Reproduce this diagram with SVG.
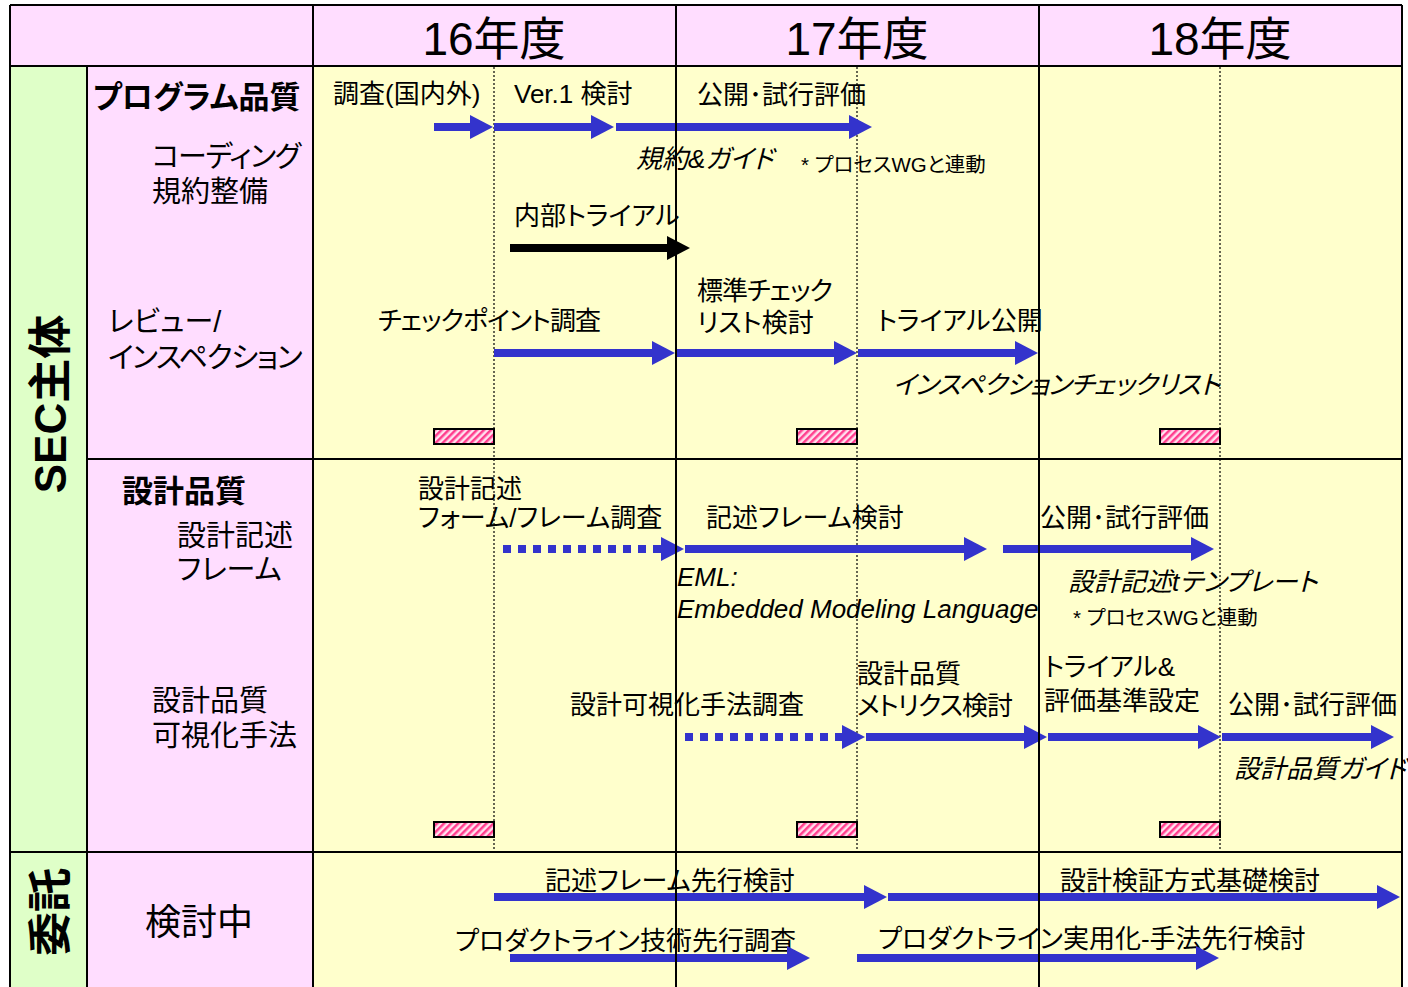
<svg xmlns="http://www.w3.org/2000/svg" width="1408" height="987" viewBox="0 0 1408 987">
<style>
.t{font-family:"Liberation Sans","Noto Sans CJK JP",sans-serif;font-feature-settings:"palt";fill:#000}
.yr{font-size:46px}
.hd{font-size:31px;font-weight:bold}
.lb{font-size:29px}
.s{font-size:26px}
.sm{font-size:20.5px}
.it{font-style:italic}
.k{letter-spacing:-1px}
.vt{font-size:44px;font-weight:bold}
.grid{stroke:#000;stroke-width:2;fill:none}
.dot{stroke:#000;stroke-width:1.2;stroke-dasharray:2 2;fill:none}
.ar{stroke:#3333CC;stroke-width:8;fill:none;marker-end:url(#hb)}
.ard{stroke:#3333CC;stroke-width:8;fill:none;stroke-dasharray:8 7;marker-end:url(#hb)}
.ark{stroke:#000;stroke-width:8;fill:none;marker-end:url(#hk)}
.hatch{fill:url(#hp);stroke:#000;stroke-width:2}
</style>
<defs>
<marker id="hb" markerUnits="userSpaceOnUse" markerWidth="23" markerHeight="24" viewBox="0 0 23 24" refX="1" refY="12" orient="auto"><path d="M0,0 L23,12 L0,24 Z" fill="#3333CC"/></marker>
<marker id="hk" markerUnits="userSpaceOnUse" markerWidth="23" markerHeight="24" viewBox="0 0 23 24" refX="1" refY="12" orient="auto"><path d="M0,0 L23,12 L0,24 Z" fill="#000"/></marker>
<pattern id="hp" width="5" height="5" patternUnits="userSpaceOnUse" patternTransform="rotate(45)"><rect width="5" height="5" fill="#FFE0EE"/><rect width="2.5" height="5" fill="#FF3E8E"/></pattern>
</defs>

<g id="background">
<rect x="10" y="5" width="1392" height="61" fill="#FFDDFF"/>
<rect x="10" y="66" width="77" height="921" fill="#DFFFC8"/>
<rect x="87" y="66" width="226" height="921" fill="#FFDDFF"/>
<rect x="313" y="66" width="1089" height="921" fill="#FFFFCC"/>
</g>

<g id="midyear-lines">
<line class="dot" x1="494" y1="67" x2="494" y2="851"/>
<line class="dot" x1="857" y1="67" x2="857" y2="851"/>
<line class="dot" x1="1220" y1="67" x2="1220" y2="851"/>
</g>

<g id="header">
<text class="t yr" x="494" y="55" text-anchor="middle">16年度</text>
<text class="t yr" x="857" y="55" text-anchor="middle">17年度</text>
<text class="t yr" x="1220" y="55" text-anchor="middle">18年度</text>
</g>

<g id="sec-label"><text class="t vt" transform="translate(66,404) rotate(-90)" text-anchor="middle">SEC主体</text></g>
<g id="itaku-label"><text class="t vt" font-size="42" transform="translate(66,912) rotate(-90)" text-anchor="middle">委託</text></g>

<g id="program-quality">
<text class="t hd" x="93" y="108">プログラム品質</text>
<text class="t lb" x="152" y="167" letter-spacing="-1.3">コーディング</text>
<text class="t lb" x="152" y="202">規約整備</text>
<text class="t lb" x="108" y="332">レビュー/</text>
<text class="t lb" x="108" y="368" letter-spacing="-1.4">インスペクション</text>
</g>

<g id="design-quality">
<text class="t hd" x="122" y="502">設計品質</text>
<text class="t lb" x="177" y="546">設計記述</text>
<text class="t lb" x="177" y="580">フレーム</text>
<text class="t lb" x="152" y="711">設計品質</text>
<text class="t lb" x="152" y="746">可視化手法</text>
</g>

<g id="itaku-row"><text class="t" font-size="36" x="145" y="935">検討中</text></g>

<g id="coding-tasks">
<text class="t s" x="333" y="103">調査(国内外)</text>
<text class="t s" x="514" y="103">Ver.1 検討</text>
<text class="t s" x="697" y="104">公開･試行評価</text>
<text class="t s it" x="636" y="168">規約&amp;ガイド</text>
<text class="t sm" x="801" y="172">* プロセスWGと連動</text>
<text class="t s" x="514" y="225">内部トライアル</text>
</g>

<g id="review-tasks">
<text class="t s k" x="378" y="330">チェックポイント調査</text>
<text class="t s k" x="697" y="300">標準チェック</text>
<text class="t s" x="697" y="332">リスト検討</text>
<text class="t s" x="877" y="330">トライアル公開</text>
<text class="t s it" x="893" y="394" letter-spacing="-0.7">インスペクションチェックリスト</text>
</g>

<g id="frame-tasks">
<text class="t s" x="418" y="498">設計記述</text>
<text class="t s" x="418" y="527">フォーム/フレーム調査</text>
<text class="t s" x="706" y="527">記述フレーム検討</text>
<text class="t s" x="1040" y="527">公開･試行評価</text>
<text class="t s it" x="677" y="586">EML:</text>
<text class="t s it" x="677" y="618">Embedded Modeling Language</text>
<text class="t s it" x="1068" y="591">設計記述tテンプレート</text>
<text class="t sm" x="1073" y="625">* プロセスWGと連動</text>
</g>

<g id="visual-tasks">
<text class="t s" x="570" y="714">設計可視化手法調査</text>
<text class="t s" x="857" y="683">設計品質</text>
<text class="t s k" x="857" y="715">メトリクス検討</text>
<text class="t s" x="1044" y="676">トライアル&amp;</text>
<text class="t s" x="1044" y="710">評価基準設定</text>
<text class="t s" x="1228" y="714">公開･試行評価</text>
<text class="t s it" x="1234" y="778">設計品質ガイド</text>
</g>

<g id="itaku-tasks">
<text class="t s" x="545" y="890">記述フレーム先行検討</text>
<text class="t s" x="1060" y="890">設計検証方式基礎検討</text>
<text class="t s" x="455" y="950">プロダクトライン技術先行調査</text>
<text class="t s" x="878" y="948">プロダクトライン実用化-手法先行検討</text>
</g>

<g id="connectors">
<line class="ar" x1="434" y1="127" x2="471" y2="127"/>
<line class="ar" x1="494" y1="127" x2="592" y2="127"/>
<line class="ar" x1="616" y1="127" x2="850" y2="127"/>
<line class="ark" x1="510" y1="248" x2="668" y2="248"/>
<line class="ar" x1="494" y1="353" x2="653" y2="353"/>
<line class="ar" x1="676" y1="353" x2="835" y2="353"/>
<line class="ar" x1="858" y1="353" x2="1016" y2="353"/>
<line class="ard" x1="503" y1="549" x2="662" y2="549"/>
<line class="ar" x1="685" y1="549" x2="965" y2="549"/>
<line class="ar" x1="1003" y1="549" x2="1192" y2="549"/>
<line class="ard" x1="685" y1="737" x2="843" y2="737"/>
<line class="ar" x1="866" y1="737" x2="1025" y2="737"/>
<line class="ar" x1="1048" y1="737" x2="1199" y2="737"/>
<line class="ar" x1="1222" y1="737" x2="1372" y2="737"/>
<line class="ar" x1="494" y1="897" x2="865" y2="897"/>
<line class="ar" x1="888" y1="897" x2="1378" y2="897"/>
<line class="ar" x1="510" y1="958" x2="788" y2="958"/>
<line class="ar" x1="857" y1="958" x2="1197" y2="958"/>
</g>

<g id="milestones">
<rect class="hatch" x="434" y="429" width="60" height="15"/>
<rect class="hatch" x="797" y="429" width="60" height="15"/>
<rect class="hatch" x="1160" y="429" width="60" height="15"/>
<rect class="hatch" x="434" y="822" width="60" height="15"/>
<rect class="hatch" x="797" y="822" width="60" height="15"/>
<rect class="hatch" x="1160" y="822" width="60" height="15"/>
</g>

<g id="grid">
<line class="grid" x1="10" y1="5" x2="1402" y2="5" stroke="#777"/>
<line class="grid" x1="10" y1="66" x2="1402" y2="66"/>
<line class="grid" x1="87" y1="459" x2="1402" y2="459"/>
<line class="grid" x1="10" y1="852" x2="1402" y2="852"/>
<line class="grid" x1="10" y1="5" x2="10" y2="987"/>
<line class="grid" x1="87" y1="66" x2="87" y2="987"/>
<line class="grid" x1="313" y1="5" x2="313" y2="987"/>
<line class="grid" x1="676" y1="5" x2="676" y2="987"/>
<line class="grid" x1="1039" y1="5" x2="1039" y2="987"/>
<line class="grid" x1="1402" y1="5" x2="1402" y2="987"/>
</g>
</svg>
